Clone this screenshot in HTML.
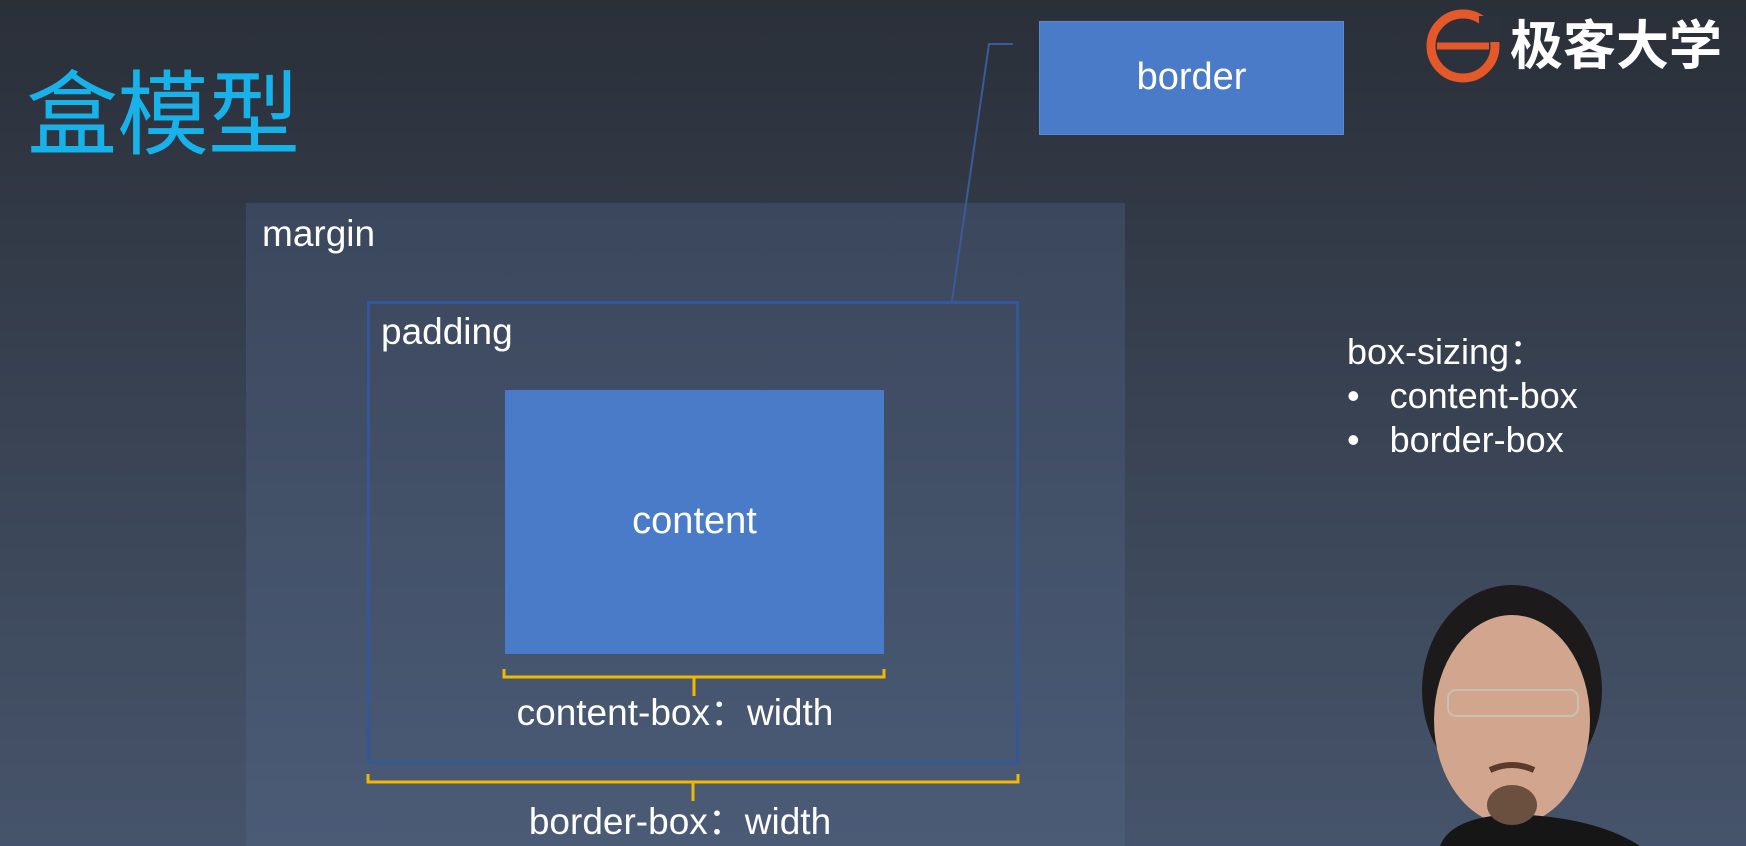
<!DOCTYPE html>
<html><head><meta charset="utf-8"><style>
html,body{margin:0;padding:0}
body{width:1746px;height:846px;position:relative;overflow:hidden;background:linear-gradient(180deg,#2a2f38 0%,#363f4e 40%,#46546b 100%);font-family:"Liberation Sans","Noto Sans CJK SC",sans-serif;color:#fff}
.a{position:absolute}
.t{position:absolute;white-space:nowrap;line-height:1}
</style></head><body>
<div class="t" style="left:26px;top:62px;font-size:92px;color:#18b2ea;font-family:'Noto Sans CJK SC',sans-serif;letter-spacing:-1px">盒模型</div>
<div class="a" style="left:1039px;top:21px;width:305px;height:114px;background:#4a7bc8;border:1px solid #5b88d0;box-sizing:border-box"></div>
<div class="t" style="left:1039px;width:305px;top:58px;text-align:center;font-size:38px">border</div>
<svg class="a" style="left:1425px;top:6px" width="80" height="80" viewBox="0 0 80 80"><circle cx="38" cy="40" r="32" fill="none" stroke="#e5582a" stroke-width="9"/><path d="M12 40h52" stroke="#e5582a" stroke-width="7"/><rect x="54" y="10" width="22" height="26" fill="#2c323c"/></svg>
<div class="t" style="left:1510px;top:16px;font-size:53px;font-weight:bold;font-family:'Noto Sans CJK SC',sans-serif">极客大学</div>
<div class="a" style="left:246px;top:203px;width:879px;height:643px;background:linear-gradient(180deg,#3b475c,#4b5b76)"></div>
<div class="t" style="left:262px;top:215px;font-size:37px">margin</div>
<div class="a" style="left:367px;top:301px;width:652px;height:463px;border:3px solid #34579a;box-sizing:border-box"></div>
<div class="t" style="left:381px;top:313px;font-size:37px">padding</div>
<div class="a" style="left:505px;top:390px;width:379px;height:264px;background:#4a7bc8"></div>
<div class="t" style="left:505px;width:379px;top:502px;text-align:center;font-size:38px">content</div>
<svg class="a" style="left:0;top:0" width="1746" height="846">
<polyline points="1013,44 989,44 952,301" fill="none" stroke="#3a5a9a" stroke-width="2"/>
<path d="M504 669v8h380v-8M694 677v19" fill="none" stroke="#f0b800" stroke-width="3"/>
<path d="M368 774v8h650v-8M693 782v19" fill="none" stroke="#f0b800" stroke-width="3"/>
<ellipse cx="1512" cy="690" rx="90" ry="105" fill="#1c1a1a"/>
<ellipse cx="1512" cy="720" rx="78" ry="105" fill="#d2a68e"/>
<path d="M1440 846 Q1450 820 1500 815 L1530 815 Q1600 820 1640 846Z" fill="#161616"/>
<rect x="1448" y="690" width="130" height="26" rx="8" fill="none" stroke="#c8c0b0" stroke-width="2"/>
<path d="M1490 770 q22 -10 44 0" stroke="#5a3a2a" stroke-width="6" fill="none"/>
<ellipse cx="1512" cy="805" rx="25" ry="20" fill="#6b5040"/>
</svg>
<div class="t" style="left:452px;width:446px;top:694px;text-align:center;font-size:37px;font-family:'Liberation Sans','Noto Sans CJK SC',sans-serif">content-box：width</div>
<div class="t" style="left:457px;width:446px;top:803px;text-align:center;font-size:37px;font-family:'Liberation Sans','Noto Sans CJK SC',sans-serif">border-box：width</div>
<div class="t" style="left:1347px;top:330px;font-size:36px;line-height:44px;font-family:'Liberation Sans','Noto Sans CJK SC',sans-serif">box-sizing：<br>•&nbsp;&nbsp;&nbsp;content-box<br>•&nbsp;&nbsp;&nbsp;border-box</div>
</body></html>
